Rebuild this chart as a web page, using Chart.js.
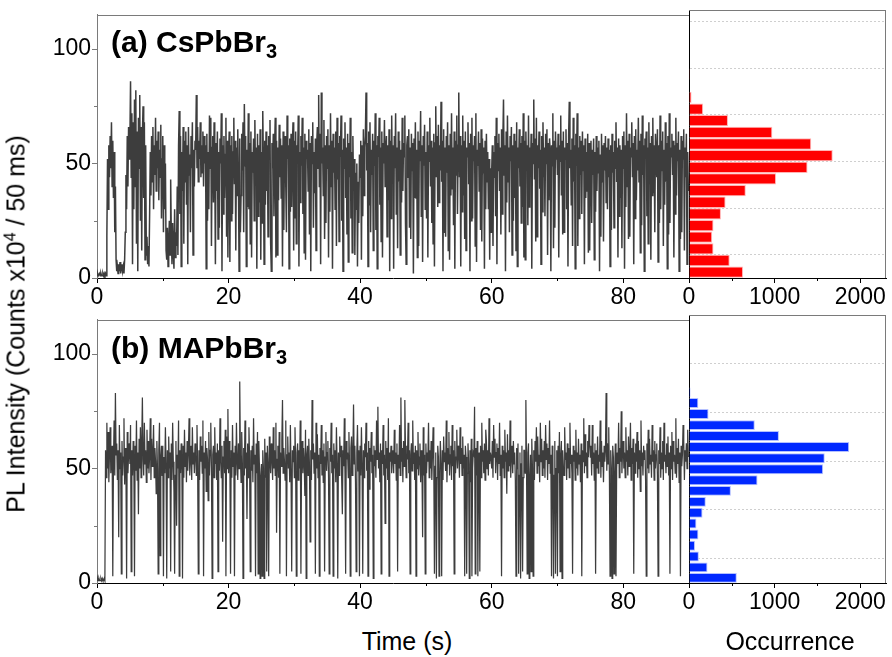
<!DOCTYPE html>
<html>
<head>
<meta charset="utf-8">
<script src="https://cdn.jsdelivr.net/npm/chart.js@4.4.0/dist/chart.umd.min.js"></script>
<style>
  body { margin: 0; background: #fff; }
  #wrap { position: relative; width: 892px; height: 657px; overflow: hidden; font-family: 'Liberation Sans', Arial, sans-serif; color: #000; }
  canvas { position: absolute; }
  .lbl { position: absolute; white-space: nowrap; line-height: 1; }
  .panel { font-weight: bold; font-size: 30px; left: 111px; }
  .panel sub { font-size: 20px; vertical-align: baseline; position: relative; top: 6px; }
  .axt { font-size: 25px; transform: translateX(-50%); }
  #ytitle { font-size: 25px; left: 16px; top: 324px; transform: translate(-50%, -50%) rotate(-90deg); }
  #ytitle sup { font-size: 16px; vertical-align: baseline; position: relative; top: -9px; }
</style>
</head>
<body>
<div id="wrap">
  <canvas id="traceA" width="700" height="306" style="left:0;top:0"></canvas>
  <canvas id="histA" width="232" height="306" style="left:660px;top:0"></canvas>
  <canvas id="traceB" width="700" height="306" style="left:0;top:305px"></canvas>
  <canvas id="histB" width="232" height="306" style="left:660px;top:305px"></canvas>
  <div class="lbl panel" style="top:27px">(a) CsPbBr<sub>3</sub></div>
  <div class="lbl panel" style="top:333px">(b) MAPbBr<sub>3</sub></div>
  <div class="lbl" id="ytitle">PL Intensity (Counts x10<sup>4</sup> / 50 ms)</div>
  <div class="lbl axt" style="left:407px;top:629px">Time (s)</div>
  <div class="lbl axt" style="left:790px;top:629px">Occurrence</div>
</div>
<script>
// time step of the traces (s)
const dt = 0.1;

const timeTicks = [0, 20, 40, 60, 80];
const timeMinor = [10, 30, 50, 70];
const plTicks = [0, 50, 100];
const plMinor = [25, 75];
const occTicks = [0, 1000, 2000];
const occMinor = [500, 1500];
const histGridA = [10, 30, 50, 70, 90, 110];
const histGridB = [10, 30, 50, 70, 90];

// (a) CsPbBr3 trace, one value every 0.1 s (one row = 5 s)
const traceA = [
  1,2,1,1,2,1,2,1,1,2,1,2,1,2,1,18,52,30,58,44,62,48,68,40,60,35,55,20,40,8,3,5,2,6,3,7,2,4,6,3,5,2,8,20,45,30,62,40,66,52,
  60,86,44,72,6,68,30,78,40,82,15,64,3,70,48,80,25,66,12,62,75,35,68,8,58,10,18,6,14,5,28,55,36,62,42,66,30,58,45,70,38,60,48,64,34,56,44,67,26,52,
  62,20,58,30,50,12,8,22,5,15,25,10,43,18,6,24,12,4,30,9,20,14,40,10,58,73,28,62,5,55,38,66,15,60,42,64,32,58,6,66,45,54,20,62,48,68,10,56,40,60,
  56,80,48,66,42,60,52,68,44,58,46,64,40,62,50,58,4,63,25,55,30,71,48,70,14,57,62,33,68,52,6,59,38,64,17,55,22,61,50,72,3,58,28,62,35,54,70,18,60,9,
  52,64,7,58,25,62,28,55,70,41,60,12,57,36,65,44,3,61,20,36,63,47,68,20,76,49,62,5,56,31,72,30,59,15,64,9,55,46,61,25,69,43,57,4,63,27,58,33,65,8,
  55,24,73,50,6,60,32,64,38,58,18,62,53,69,15,3,59,48,63,27,56,70,9,60,10,57,34,67,44,61,35,58,5,64,21,55,62,40,20,71,52,58,4,61,29,63,31,57,68,12,
  60,26,64,15,58,52,71,5,55,33,62,49,70,28,57,11,63,8,60,52,56,38,65,19,59,3,62,50,68,22,55,37,61,12,58,66,48,80,40,63,6,81,50,57,36,69,17,58,24,62,
  48,65,9,58,29,72,40,60,4,63,46,57,30,64,14,70,43,59,16,62,53,71,25,56,3,61,48,68,35,57,19,63,7,59,44,70,26,55,11,62,38,52,10,46,30,50,5,42,24,54,
  44,60,8,58,27,65,36,57,62,81,47,59,5,64,32,68,20,56,45,63,12,60,49,72,21,58,4,62,53,70,32,57,16,64,9,59,50,69,40,56,62,18,58,34,65,3,60,26,71,44,
  58,4,62,48,72,28,57,13,64,42,60,10,56,33,70,38,59,53,71,24,6,58,62,44,65,22,57,17,63,47,59,2,61,35,68,35,56,9,64,14,60,51,73,27,58,7,62,49,67,30,
  55,26,64,9,58,51,70,40,60,24,57,15,63,5,59,75,44,62,31,67,33,58,47,77,42,60,3,65,20,57,18,62,46,68,12,58,8,63,36,72,39,57,23,64,4,60,45,71,28,58,
  81,44,62,5,58,29,71,36,60,17,64,12,57,53,68,41,59,3,63,25,70,26,58,51,62,14,72,7,56,49,64,38,59,21,65,16,61,46,57,4,60,30,63,42,55,30,52,8,48,20,
  46,58,14,55,44,62,27,70,6,59,47,63,38,57,19,65,28,60,78,45,58,3,64,33,71,42,57,20,62,51,66,10,58,25,63,35,60,12,68,5,57,48,65,40,59,24,62,31,72,9,
  60,8,64,47,58,23,71,31,57,45,63,4,59,50,78,43,61,16,70,18,58,48,64,39,56,6,62,29,68,44,57,27,63,50,65,10,59,34,61,55,3,58,49,72,13,60,22,64,52,57,
  45,63,9,58,51,71,36,60,19,64,20,57,52,65,30,59,5,62,77,48,56,32,61,14,70,42,58,4,63,49,72,14,57,26,62,45,60,28,64,47,58,6,61,35,55,38,63,11,59,12,
  52,60,24,56,45,61,8,55,29,62,38,57,46,60,3,54,18,63,42,58,16,59,47,62,33,57,30,61,44,56,5,58,21,63,46,55,22,60,48,68,42,57,9,61,27,58,35,56,13,62,
  48,64,4,58,31,72,40,60,17,63,18,57,53,68,44,59,6,62,26,65,34,56,47,70,42,60,11,63,23,71,45,58,3,61,54,64,27,57,15,68,41,59,8,62,36,70,37,58,20,63,
  55,44,65,7,58,24,71,30,60,47,64,14,56,32,68,42,59,4,62,19,72,24,57,53,63,45,60,9,58,28,70,36,59,51,64,3,56,17,62,20,60,52,65,12,57,44,63,6,55,38
];

// (b) MAPbBr3 trace, one value every 0.1 s (one row = 5 s)
const traceB = [
  1,2,1,2,1,1,2,1,2,1,1,2,1,58,46,70,50,66,44,57,68,48,54,60,3,52,71,47,83,56,61,45,58,20,69,50,57,4,62,47,55,72,43,59,51,2,66,48,56,61,
  52,69,5,58,47,62,55,3,60,49,71,45,57,30,63,50,68,46,61,81,54,47,70,52,58,44,67,50,62,48,56,72,45,63,51,57,69,46,59,53,39,62,49,4,58,70,12,55,60,47,
  60,3,55,48,68,52,2,58,46,64,50,57,5,61,45,70,53,40,4,47,62,25,56,50,71,3,58,48,61,54,2,60,46,67,51,57,44,62,49,58,72,47,55,60,45,68,52,57,48,61,
  56,47,69,51,4,58,45,64,53,60,48,71,3,57,50,62,40,59,54,36,66,47,58,70,50,2,56,60,46,68,52,57,45,61,5,58,49,72,53,46,60,18,55,62,48,67,3,64,50,76,
  48,62,55,4,58,46,69,51,57,3,60,47,70,53,45,61,50,88,56,44,66,52,2,59,47,71,50,57,28,61,46,68,54,5,58,49,60,44,72,52,56,3,61,48,66,4,62,50,2,47,
  52,3,58,50,2,63,46,57,5,60,52,3,64,56,48,61,55,45,68,50,58,47,70,22,54,60,46,66,4,57,51,62,80,48,59,53,45,71,3,56,64,50,57,44,69,48,5,58,53,60,
  46,68,52,3,57,61,45,58,50,71,4,55,62,48,59,53,38,67,2,56,60,47,63,51,18,58,45,80,54,61,48,57,4,70,50,65,46,56,3,59,52,69,47,58,44,61,5,55,66,49,
  57,62,46,4,59,53,70,48,56,3,61,50,58,44,68,52,2,57,47,64,55,60,45,30,58,51,72,48,4,62,54,57,46,66,50,3,59,64,47,56,78,52,60,44,5,57,69,49,58,3,
  60,47,68,52,4,58,46,61,55,70,49,57,3,62,41,59,53,66,48,56,2,60,51,58,46,71,54,77,50,57,44,61,4,58,52,69,47,56,26,62,50,59,45,72,3,57,53,60,48,55,
  58,48,67,52,57,45,61,5,56,50,69,47,81,53,59,44,62,51,80,57,46,60,54,70,48,58,4,56,61,49,71,52,57,45,60,3,58,50,66,47,55,61,44,58,52,20,68,47,56,4,
  61,48,57,53,70,46,58,50,62,45,56,68,52,4,51,57,2,46,60,55,3,48,62,52,3,58,45,64,53,57,49,71,44,59,52,66,47,56,60,45,69,51,58,4,62,48,55,67,50,60,
  57,46,68,52,59,47,64,50,56,3,60,55,4,48,61,52,2,58,44,63,3,50,57,56,77,4,59,47,62,3,51,57,5,60,46,70,53,58,48,61,45,67,62,50,58,47,72,52,57,55,
  50,62,46,69,55,63,48,57,61,45,59,52,70,47,56,3,60,50,58,46,67,53,57,39,65,49,58,51,71,46,56,60,48,62,52,57,45,3,59,50,61,4,47,57,2,52,60,5,46,58,
  58,48,80,52,4,57,61,2,46,56,5,63,50,3,58,45,62,53,68,48,64,51,56,44,70,53,63,47,58,50,62,46,69,54,61,45,59,52,71,48,56,3,60,57,2,47,62,4,50,58,
  3,60,48,66,5,56,62,2,58,51,47,68,54,57,45,61,50,59,46,70,52,56,48,4,60,53,58,45,67,50,57,47,63,52,56,44,61,3,58,53,72,48,65,51,57,46,62,55,69,61,
  55,60,47,69,52,57,45,61,4,58,50,64,48,56,53,71,46,62,51,57,44,60,53,58,83,49,61,52,68,47,3,58,50,2,60,55,4,48,61,3,50,57,52,70,46,59,53,75,48,58,
  62,50,57,46,68,53,58,47,64,51,56,70,45,59,52,63,4,57,48,61,53,66,46,62,50,58,40,71,51,57,47,60,54,58,45,3,61,50,67,48,63,52,56,46,69,53,58,45,62,50,
  56,61,47,3,58,52,68,46,57,50,62,45,70,53,56,48,61,51,64,47,57,4,60,50,66,45,62,53,56,48,72,46,59,52,63,44,57,3,60,51,56,69,62,45,58,53,61,50,67,55
];

// histograms: bin centres (in each histogram's own intensity axis) and occurrences
const binsA = [2.5, 7.5, 12.5, 17.5, 22.5, 27.5, 32.5, 37.5, 42.5, 47.5, 52.5, 57.5, 62.5, 67.5, 72.5, 77.5, 82.5, 87.5];
const countsA = [631, 475, 286, 271, 286, 373, 427, 663, 1016, 1384, 1678, 1427, 973, 455, 165, 30, 0, 10];
const binsB = [2.1, 6.4, 10.9, 15.3, 19.9, 24.4, 28.8, 33.3, 37.8, 42.2, 46.7, 51.2, 55.8, 60.3, 64.8, 69.4, 73.9, 78.2, 82.4];
const countsB = [558, 216, 115, 70, 110, 87, 158, 196, 489, 800, 1566, 1585, 1870, 1050, 768, 228, 109, 18, 6];

const tickFont = { family: "'Liberation Sans', Arial, sans-serif", size: 23 };
const traceColor = '#3d3d3d';
const frameColor = '#7a7a7a';

// top / right edges of the plot box
const framePlugin = {
  id: 'frame',
  afterDatasetsDraw(chart, args, opts) {
    const { left, top, right, bottom } = chart.chartArea;
    const ctx = chart.ctx;
    ctx.save();
    ctx.strokeStyle = opts.color;
    ctx.lineWidth = 1;
    ctx.beginPath();
    ctx.moveTo(left, Math.round(top) + 0.5);
    ctx.lineTo(right, Math.round(top) + 0.5);
    if (opts.right) {
      ctx.moveTo(Math.round(right) - 0.5, top);
      ctx.lineTo(Math.round(right) - 0.5, bottom);
    }
    ctx.stroke();
    ctx.restore();
  }
};

// short unlabeled ticks between the labeled ones
const minorTickPlugin = {
  id: 'minorTicks',
  afterDraw(chart, args, opts) {
    const ctx = chart.ctx;
    ctx.save();
    ctx.lineWidth = 1;
    (opts.list || []).forEach((m) => {
      const s = chart.scales[m.axis];
      ctx.strokeStyle = m.color;
      m.values.forEach((v) => {
        const p = Math.round(s.getPixelForValue(v)) + 0.5;
        ctx.beginPath();
        if (s.isHorizontal()) {
          ctx.moveTo(p, s.top);
          ctx.lineTo(p, s.top + m.len);
        } else {
          ctx.moveTo(s.right, p);
          ctx.lineTo(s.right - m.len, p);
        }
        ctx.stroke();
      });
    });
    ctx.restore();
  }
};

const setTicks = (list) => (scale) => {
  scale.ticks = list.map((v) => ({ value: v }));
};
const plainLabel = (v) => String(v);

function traceChart(id, values, lineWidth) {
  let points = values.map((v, i) => ({ x: i * dt, y: v }));
  return new Chart(document.getElementById(id), {
    type: 'line',
    data: {
      datasets: [{
        data: points,
        borderColor: traceColor,
        borderWidth: lineWidth,
        pointRadius: 0,
        tension: 0,
        fill: false
      }]
    },
    options: {
      responsive: false,
      animation: false,
      events: [],
      layout: { padding: { left: 0, top: 10, right: 11, bottom: 0 } },
      plugins: {
        legend: { display: false },
        tooltip: { enabled: false },
        frame: { color: frameColor, right: false },
        minorTicks: {
          list: [
            { axis: 'x', values: timeMinor, len: 3, color: '#000' },
            { axis: 'y', values: plMinor, len: 3, color: frameColor }
          ]
        }
      },
      scales: {
        x: {
          type: 'linear',
          min: 0,
          max: 90,
          afterBuildTicks: setTicks(timeTicks),
          afterFit: (s) => { s.height = 28; },
          grid: { drawOnChartArea: false, tickLength: 5, color: '#000' },
          border: { color: '#000' },
          ticks: { font: tickFont, color: '#000', padding: 1, maxRotation: 0, autoSkip: false, callback: plainLabel }
        },
        y: {
          type: 'linear',
          min: 0,
          max: 115,
          afterBuildTicks: setTicks(plTicks),
          afterFit: (s) => { s.width = 97; },
          grid: { drawOnChartArea: false, tickLength: 5, color: frameColor },
          border: { color: frameColor },
          ticks: { font: tickFont, color: '#000', padding: 1, callback: plainLabel }
        }
      }
    },
    plugins: [framePlugin, minorTickPlugin]
  });
}

function histChart(id, bins, counts, yMax, grid, fill, edge) {
  let bars = counts.map((c, i) => ({ x: c, y: bins[i] }));
  return new Chart(document.getElementById(id), {
    type: 'bar',
    data: {
      datasets: [{
        data: bars,
        backgroundColor: fill,
        borderColor: edge,
        borderWidth: 1,
        barPercentage: 0.97,
        categoryPercentage: 1
      }]
    },
    options: {
      indexAxis: 'y',
      responsive: false,
      animation: false,
      events: [],
      layout: { padding: { left: 29, top: 10, right: 6, bottom: 0 } },
      plugins: {
        legend: { display: false },
        tooltip: { enabled: false },
        frame: { color: frameColor, right: true },
        minorTicks: { list: [{ axis: 'x', values: occMinor, len: 3, color: '#000' }] }
      },
      scales: {
        x: {
          type: 'linear',
          min: 0,
          max: 2300,
          afterBuildTicks: setTicks(occTicks),
          afterFit: (s) => { s.height = 28; },
          grid: { drawOnChartArea: false, tickLength: 5, color: '#000' },
          border: { color: '#000' },
          ticks: { font: tickFont, color: '#000', padding: 1, maxRotation: 0, autoSkip: false, callback: plainLabel }
        },
        y: {
          type: 'linear',
          min: 0,
          max: yMax,
          offset: false,
          afterBuildTicks: setTicks(grid),
          afterFit: (s) => { s.width = 0; },
          grid: { offset: false, drawTicks: false, color: '#cfcfcf', lineWidth: 1 },
          border: { color: '#000', dash: [2, 2] },
          ticks: { display: false }
        }
      }
    },
    plugins: [framePlugin, minorTickPlugin]
  });
}

traceChart('traceA', traceA, 1.5);
histChart('histA', binsA, countsA, 115, histGridA, '#ff0000', '#ffb4b4');
traceChart('traceB', traceB, 1.25);
histChart('histB', binsB, countsB, 110, histGridB, '#0028ff', '#b4c0ff');
</script>
</body>
</html>
